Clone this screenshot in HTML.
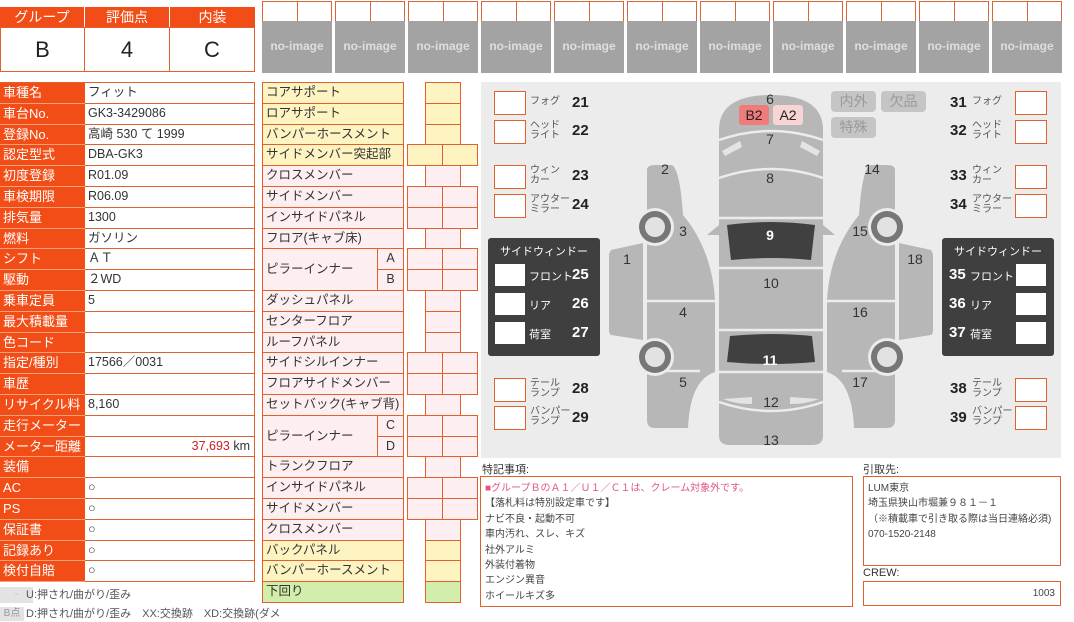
<!DOCTYPE html>
<html><head><meta charset="utf-8">
<style>
*{box-sizing:border-box;margin:0;padding:0}
body{width:1074px;height:617px;background:#fff;position:relative;overflow:hidden;font-family:"Liberation Sans","Noto Sans CJK JP",sans-serif;font-size:12.5px;color:#333}
.a{position:absolute}
.or{background:#f24d17;color:#fff}
.b{border:1px solid #e0612e}
.hd{top:7px;height:21px;text-align:center;font-size:14px;line-height:20px}
.hv{top:27px;height:45px;text-align:center;font-size:22px;line-height:44px;color:#222}
.lr{left:0;width:255px;height:20.8px;display:flex}
.lr .l{width:85px;background:#f24d17;color:#fff;padding-left:3px;line-height:19px;border-bottom:1px solid #f6a07c;font-size:13px}
.lr .v{flex:1;border:1px solid #e0612e;border-left:none;border-top:none;padding-left:3px;line-height:19px;font-size:12.5px}
.th{width:70px}
.th .c{position:absolute;top:1px;height:21px;width:35.5px;border:1px solid #d9653a}
.th .img{position:absolute;top:21px;height:52px;width:70px;background:#a3a3a3;color:#dedede;font-weight:bold;font-size:12px;text-align:center;line-height:50px;overflow:hidden}
.pr{left:262px;width:142px;height:21.8px;border:1px solid #e0612e;padding-left:3px;line-height:19px;font-size:12.5px}
.Y{background:#fdf4c2}.P{background:#fdeef1}.G{background:#d3edaa}
.bx{height:21.8px;border:1px solid #e0612e}
.cb{background:#fff;border:1px solid #e0612e}
.sm{font-size:10px;line-height:10px;color:#555}
.num{font-size:15px;font-weight:bold;color:#222}
.gb{background:#c5c5c5;color:#9a9a9a;border-radius:4px;text-align:center;font-size:14px;line-height:20px;width:45px;height:21px}
</style></head><body>

<div class="a or hd" style="left:0;width:84px">グループ</div>
<div class="a or hd" style="left:85px;width:84px">評価点</div>
<div class="a or hd" style="left:170px;width:85px">内装</div>
<div class="a b hv" style="left:0;width:85px">B</div>
<div class="a b hv" style="left:84px;width:86px">4</div>
<div class="a b hv" style="left:169px;width:86px">C</div>

<div class="a th" style="left:262px;top:0"><div class="c" style="left:0"></div><div class="c" style="left:34.5px"></div><div class="img">no-image</div></div>
<div class="a th" style="left:335px;top:0"><div class="c" style="left:0"></div><div class="c" style="left:34.5px"></div><div class="img">no-image</div></div>
<div class="a th" style="left:408px;top:0"><div class="c" style="left:0"></div><div class="c" style="left:34.5px"></div><div class="img">no-image</div></div>
<div class="a th" style="left:481px;top:0"><div class="c" style="left:0"></div><div class="c" style="left:34.5px"></div><div class="img">no-image</div></div>
<div class="a th" style="left:554px;top:0"><div class="c" style="left:0"></div><div class="c" style="left:34.5px"></div><div class="img">no-image</div></div>
<div class="a th" style="left:627px;top:0"><div class="c" style="left:0"></div><div class="c" style="left:34.5px"></div><div class="img">no-image</div></div>
<div class="a th" style="left:700px;top:0"><div class="c" style="left:0"></div><div class="c" style="left:34.5px"></div><div class="img">no-image</div></div>
<div class="a th" style="left:773px;top:0"><div class="c" style="left:0"></div><div class="c" style="left:34.5px"></div><div class="img">no-image</div></div>
<div class="a th" style="left:846px;top:0"><div class="c" style="left:0"></div><div class="c" style="left:34.5px"></div><div class="img">no-image</div></div>
<div class="a th" style="left:919px;top:0"><div class="c" style="left:0"></div><div class="c" style="left:34.5px"></div><div class="img">no-image</div></div>
<div class="a th" style="left:992px;top:0"><div class="c" style="left:0"></div><div class="c" style="left:34.5px"></div><div class="img">no-image</div></div>

<div class="a" style="left:0;top:82px;width:255px;border-top:1px solid #e0612e">
<div class="lr"><div class="l">車種名</div><div class="v">フィット</div></div>
<div class="lr"><div class="l">車台No.</div><div class="v">GK3-3429086</div></div>
<div class="lr"><div class="l">登録No.</div><div class="v">高崎 530 て 1999</div></div>
<div class="lr"><div class="l">認定型式</div><div class="v">DBA-GK3</div></div>
<div class="lr"><div class="l">初度登録</div><div class="v">R01.09</div></div>
<div class="lr"><div class="l">車検期限</div><div class="v">R06.09</div></div>
<div class="lr"><div class="l">排気量</div><div class="v">1300</div></div>
<div class="lr"><div class="l">燃料</div><div class="v">ガソリン</div></div>
<div class="lr"><div class="l">シフト</div><div class="v">ＡＴ</div></div>
<div class="lr"><div class="l">駆動</div><div class="v">２WD</div></div>
<div class="lr"><div class="l">乗車定員</div><div class="v">5</div></div>
<div class="lr"><div class="l">最大積載量</div><div class="v"></div></div>
<div class="lr"><div class="l">色コード</div><div class="v"></div></div>
<div class="lr"><div class="l">指定/種別</div><div class="v">17566／0031</div></div>
<div class="lr"><div class="l">車歴</div><div class="v"></div></div>
<div class="lr"><div class="l">リサイクル料</div><div class="v">8,160</div></div>
<div class="lr"><div class="l">走行メーター</div><div class="v"></div></div>
<div class="lr"><div class="l">メーター距離</div><div class="v" style="text-align:right;padding-right:4px"><span style="color:#c8202a">37,693</span> km</div></div>
<div class="lr"><div class="l">装備</div><div class="v"></div></div>
<div class="lr"><div class="l">AC</div><div class="v">○</div></div>
<div class="lr"><div class="l">PS</div><div class="v">○</div></div>
<div class="lr"><div class="l">保証書</div><div class="v">○</div></div>
<div class="lr"><div class="l">記録あり</div><div class="v">○</div></div>
<div class="lr"><div class="l">検付自賠</div><div class="v">○</div></div>
</div>
<div class="a" style="left:0;top:587px;width:33px;height:16px;background:#e3e3e3;color:#bbb;text-align:center;font-size:10px;line-height:16px">-</div>
<div class="a" style="left:26px;top:587px;font-size:11px;color:#555;line-height:16px">U:押され/曲がり/歪み</div>
<div class="a" style="left:0;top:607px;width:24px;height:14px;background:#e3e3e3;color:#999;font-size:10px;line-height:14px;text-align:center">B点</div>
<div class="a" style="left:26px;top:606px;font-size:11px;color:#555;line-height:16px;white-space:nowrap">D:押され/曲がり/歪み　XX:交換跡　XD:交換跡(ダメ</div>

<div class="a pr Y" style="top:82px">コアサポート</div>
<div class="a pr Y" style="top:102.8px">ロアサポート</div>
<div class="a pr Y" style="top:123.6px">バンパーホースメント</div>
<div class="a pr Y" style="top:144.4px">サイドメンバー突起部</div>
<div class="a pr P" style="top:165.2px">クロスメンバー</div>
<div class="a pr P" style="top:186px">サイドメンバー</div>
<div class="a pr P" style="top:206.8px">インサイドパネル</div>
<div class="a pr P" style="top:227.6px">フロア(キャブ床)</div>
<div class="a pr P" style="top:248.4px;height:42.6px;width:116px;line-height:40px">ピラーインナー</div>
<div class="a pr P" style="top:248.4px;left:377px;width:27px;text-align:center;padding:0">A</div>
<div class="a pr P" style="top:269.2px;left:377px;width:27px;text-align:center;padding:0">B</div>
<div class="a pr P" style="top:290px">ダッシュパネル</div>
<div class="a pr P" style="top:310.8px">センターフロア</div>
<div class="a pr P" style="top:331.6px">ルーフパネル</div>
<div class="a pr P" style="top:352.4px">サイドシルインナー</div>
<div class="a pr P" style="top:373.2px">フロアサイドメンバー</div>
<div class="a pr P" style="top:394px">セットバック(キャブ背)</div>
<div class="a pr P" style="top:414.8px;height:42.6px;width:116px;line-height:40px">ピラーインナー</div>
<div class="a pr P" style="top:414.8px;left:377px;width:27px;text-align:center;padding:0">C</div>
<div class="a pr P" style="top:435.6px;left:377px;width:27px;text-align:center;padding:0">D</div>
<div class="a pr P" style="top:456.4px">トランクフロア</div>
<div class="a pr P" style="top:477.2px">インサイドパネル</div>
<div class="a pr P" style="top:498px">サイドメンバー</div>
<div class="a pr P" style="top:518.8px">クロスメンバー</div>
<div class="a pr Y" style="top:539.6px">バックパネル</div>
<div class="a pr Y" style="top:560.4px">バンパーホースメント</div>
<div class="a pr G" style="top:581.2px">下回り</div>

<div class="a bx Y" style="left:425px;top:82px;width:36px"></div>
<div class="a bx Y" style="left:425px;top:102.8px;width:36px"></div>
<div class="a bx Y" style="left:425px;top:123.6px;width:36px"></div>
<div class="a bx Y" style="left:407px;top:144.4px;width:36px"></div><div class="a bx Y" style="left:442px;top:144.4px;width:36px"></div>
<div class="a bx P" style="left:425px;top:165.2px;width:36px"></div>
<div class="a bx P" style="left:407px;top:186px;width:36px"></div><div class="a bx P" style="left:442px;top:186px;width:36px"></div>
<div class="a bx P" style="left:407px;top:206.8px;width:36px"></div><div class="a bx P" style="left:442px;top:206.8px;width:36px"></div>
<div class="a bx P" style="left:425px;top:227.6px;width:36px"></div>
<div class="a bx P" style="left:407px;top:248.4px;width:36px"></div><div class="a bx P" style="left:442px;top:248.4px;width:36px"></div>
<div class="a bx P" style="left:407px;top:269.2px;width:36px"></div><div class="a bx P" style="left:442px;top:269.2px;width:36px"></div>
<div class="a bx P" style="left:425px;top:290px;width:36px"></div>
<div class="a bx P" style="left:425px;top:310.8px;width:36px"></div>
<div class="a bx P" style="left:425px;top:331.6px;width:36px"></div>
<div class="a bx P" style="left:407px;top:352.4px;width:36px"></div><div class="a bx P" style="left:442px;top:352.4px;width:36px"></div>
<div class="a bx P" style="left:407px;top:373.2px;width:36px"></div><div class="a bx P" style="left:442px;top:373.2px;width:36px"></div>
<div class="a bx P" style="left:425px;top:394px;width:36px"></div>
<div class="a bx P" style="left:407px;top:414.8px;width:36px"></div><div class="a bx P" style="left:442px;top:414.8px;width:36px"></div>
<div class="a bx P" style="left:407px;top:435.6px;width:36px"></div><div class="a bx P" style="left:442px;top:435.6px;width:36px"></div>
<div class="a bx P" style="left:425px;top:456.4px;width:36px"></div>
<div class="a bx P" style="left:407px;top:477.2px;width:36px"></div><div class="a bx P" style="left:442px;top:477.2px;width:36px"></div>
<div class="a bx P" style="left:407px;top:498px;width:36px"></div><div class="a bx P" style="left:442px;top:498px;width:36px"></div>
<div class="a bx P" style="left:425px;top:518.8px;width:36px"></div>
<div class="a bx Y" style="left:425px;top:539.6px;width:36px"></div>
<div class="a bx Y" style="left:425px;top:560.4px;width:36px"></div>
<div class="a bx G" style="left:425px;top:581.2px;width:36px"></div>

<div class="a" style="left:481px;top:82px;width:580px;height:376px;background:#ececec"></div>
<svg class="a" style="left:0;top:0" width="1074" height="617">
 <g fill="#b7b7b7">
  <path d="M719,130 Q719,95 771,95 Q823,95 823,130 L823,436 Q823,445 812,445 L730,445 Q719,445 719,436 Z"/>
  <path d="M647,170 Q647,165 655,165 L672,165 Q680,170 683,215 Q712,250 715,300 L715,372 Q690,380 688,428 L655,428 Q647,428 647,420 Z"/>
  <path d="M611,250 L643,243 L643,340 L611,335 Q609,334 609,330 L609,254 Z"/>
  <path d="M895,170 Q895,165 887,165 L870,165 Q862,170 859,215 Q830,250 827,300 L827,372 Q852,380 854,428 L887,428 Q895,428 895,420 Z"/>
  <path d="M931,250 L899,243 L899,340 L931,335 Q933,334 933,330 L933,254 Z"/>
  <path d="M707,235 L719,225 L719,235 Z"/><path d="M835,235 L823,225 L823,235 Z"/>
 </g>
 <g stroke="#ececec" stroke-width="2.5" fill="none">
  <path d="M719,140 Q771,122 823,140"/>
  <path d="M719,178 Q771,160 823,178"/>
  <line x1="719" y1="218" x2="823" y2="218"/>
  <line x1="719" y1="268" x2="823" y2="268"/>
  <line x1="719" y1="330" x2="823" y2="330"/>
  <line x1="719" y1="372" x2="823" y2="372"/>
  <path d="M719,402 Q771,420 823,402"/>
  <line x1="645" y1="301" x2="717" y2="301"/><line x1="645" y1="371" x2="700" y2="371"/>
  <line x1="825" y1="301" x2="897" y2="301"/><line x1="842" y1="371" x2="897" y2="371"/>
  <line x1="645" y1="243" x2="645" y2="340"/><line x1="897" y1="243" x2="897" y2="340"/>
 </g>
 <g fill="#e4e4e4">
  <path d="M722,151 L740,141 L742,147 L725,156 Z"/><path d="M820,151 L802,141 L800,147 L817,156 Z"/>
  <path d="M723,399 L752,397 L752,404 Q735,404 723,399 Z"/><path d="M819,399 L790,397 L790,404 Q807,404 819,399 Z"/>
 </g>
 <g fill="#404040">
  <path d="M727,225 Q771,219 815,225 L811,260 Q771,256 731,260 Z"/>
  <path d="M730,336 Q771,332 812,336 L815,362 Q771,366 727,362 Z"/>
 </g>
 <g>
  <circle cx="655" cy="227" r="19" fill="#ececec"/><circle cx="655" cy="227" r="16" fill="#777"/><circle cx="655" cy="227" r="10" fill="#e2e2e2"/>
  <circle cx="655" cy="357" r="19" fill="#ececec"/><circle cx="655" cy="357" r="16" fill="#777"/><circle cx="655" cy="357" r="10" fill="#e2e2e2"/>
  <circle cx="887" cy="227" r="19" fill="#ececec"/><circle cx="887" cy="227" r="16" fill="#777"/><circle cx="887" cy="227" r="10" fill="#e2e2e2"/>
  <circle cx="887" cy="357" r="19" fill="#ececec"/><circle cx="887" cy="357" r="16" fill="#777"/><circle cx="887" cy="357" r="10" fill="#e2e2e2"/>
 </g>
 <g font-family="Liberation Sans, sans-serif" font-size="14" fill="#333" text-anchor="middle">
  <text x="770" y="104">6</text><text x="770" y="144">7</text><text x="770" y="183">8</text>
  <text x="770" y="240" fill="#fff" font-weight="bold">9</text><text x="771" y="288">10</text>
  <text x="770" y="365" fill="#fff" font-weight="bold">11</text><text x="771" y="407">12</text><text x="771" y="445">13</text>
  <text x="627" y="264">1</text><text x="665" y="174">2</text><text x="683" y="236">3</text><text x="683" y="317">4</text><text x="683" y="387">5</text>
  <text x="872" y="174">14</text><text x="860" y="236">15</text><text x="860" y="317">16</text><text x="860" y="387">17</text><text x="915" y="264">18</text>
 </g>
</svg>
<div class="a" style="left:739px;top:105px;width:30px;height:20px;background:#f07b7b;border-radius:3px;text-align:center;font-size:14px;line-height:20px;color:#222">B2</div>
<div class="a" style="left:773px;top:105px;width:30px;height:20px;background:#f8d4d4;border-radius:3px;text-align:center;font-size:14px;line-height:20px;color:#222">A2</div>
<div class="a gb" style="left:831px;top:91px">内外</div>
<div class="a gb" style="left:881px;top:91px">欠品</div>
<div class="a gb" style="left:831px;top:117px">特殊</div>

<div class="a cb" style="left:494px;top:91px;width:32px;height:24px"></div><div class="a sm" style="left:530px;top:97px">フォグ</div><div class="a num" style="left:572px;top:94px">21</div>
<div class="a cb" style="left:494px;top:120px;width:32px;height:24px"></div><div class="a sm" style="left:530px;top:121px">ヘッド<br>ライト</div><div class="a num" style="left:572px;top:122px">22</div>
<div class="a cb" style="left:494px;top:165px;width:32px;height:24px"></div><div class="a sm" style="left:530px;top:166px">ウィン<br>カー</div><div class="a num" style="left:572px;top:167px">23</div>
<div class="a cb" style="left:494px;top:194px;width:32px;height:24px"></div><div class="a sm" style="left:530px;top:195px">アウター<br>ミラー</div><div class="a num" style="left:572px;top:196px">24</div>
<div class="a cb" style="left:494px;top:378px;width:32px;height:24px"></div><div class="a sm" style="left:530px;top:379px">テール<br>ランプ</div><div class="a num" style="left:572px;top:380px">28</div>
<div class="a cb" style="left:494px;top:406px;width:32px;height:24px"></div><div class="a sm" style="left:530px;top:407px">バンパー<br>ランプ</div><div class="a num" style="left:572px;top:409px">29</div>
<div class="a num" style="left:950px;top:94px">31</div><div class="a sm" style="left:972px;top:97px">フォグ</div><div class="a cb" style="left:1015px;top:91px;width:32px;height:24px"></div>
<div class="a num" style="left:950px;top:122px">32</div><div class="a sm" style="left:972px;top:121px">ヘッド<br>ライト</div><div class="a cb" style="left:1015px;top:120px;width:32px;height:24px"></div>
<div class="a num" style="left:950px;top:167px">33</div><div class="a sm" style="left:972px;top:166px">ウィン<br>カー</div><div class="a cb" style="left:1015px;top:165px;width:32px;height:24px"></div>
<div class="a num" style="left:950px;top:196px">34</div><div class="a sm" style="left:972px;top:195px">アウター<br>ミラー</div><div class="a cb" style="left:1015px;top:194px;width:32px;height:24px"></div>
<div class="a num" style="left:950px;top:380px">38</div><div class="a sm" style="left:972px;top:379px">テール<br>ランプ</div><div class="a cb" style="left:1015px;top:378px;width:32px;height:24px"></div>
<div class="a num" style="left:950px;top:409px">39</div><div class="a sm" style="left:972px;top:407px">バンパー<br>ランプ</div><div class="a cb" style="left:1015px;top:406px;width:32px;height:24px"></div>

<div class="a" style="left:488px;top:238px;width:112px;height:118px;background:#3f3f3f;border-radius:3px;color:#fff">
 <div class="a" style="left:0;top:5px;width:112px;text-align:center;font-size:11px">サイドウィンドー</div>
 <div class="a" style="left:7px;top:26px;width:30px;height:22px;background:#fff"></div><div class="a" style="left:41px;top:30px;font-size:11px">フロント</div><div class="a num" style="left:84px;top:28px;color:#fff">25</div>
 <div class="a" style="left:7px;top:55px;width:30px;height:22px;background:#fff"></div><div class="a" style="left:41px;top:59px;font-size:11px">リア</div><div class="a num" style="left:84px;top:57px;color:#fff">26</div>
 <div class="a" style="left:7px;top:84px;width:30px;height:22px;background:#fff"></div><div class="a" style="left:41px;top:88px;font-size:11px">荷室</div><div class="a num" style="left:84px;top:86px;color:#fff">27</div>
</div>
<div class="a" style="left:942px;top:238px;width:112px;height:118px;background:#3f3f3f;border-radius:3px;color:#fff">
 <div class="a" style="left:0;top:5px;width:112px;text-align:center;font-size:11px">サイドウィンドー</div>
 <div class="a num" style="left:7px;top:28px;color:#fff">35</div><div class="a" style="left:28px;top:30px;font-size:11px">フロント</div><div class="a" style="left:74px;top:26px;width:30px;height:22px;background:#fff"></div>
 <div class="a num" style="left:7px;top:57px;color:#fff">36</div><div class="a" style="left:28px;top:59px;font-size:11px">リア</div><div class="a" style="left:74px;top:55px;width:30px;height:22px;background:#fff"></div>
 <div class="a num" style="left:7px;top:86px;color:#fff">37</div><div class="a" style="left:28px;top:88px;font-size:11px">荷室</div><div class="a" style="left:74px;top:84px;width:30px;height:22px;background:#fff"></div>
</div>

<div class="a" style="left:482px;top:461px;font-size:11px;color:#333">特記事項:</div>
<div class="a b" style="left:480px;top:476px;width:373px;height:131px;padding:4px 4px;font-size:10px;line-height:15.4px;color:#444">
<div style="color:#e0548a">■グループＢのＡ１／Ｕ１／Ｃ１は、クレーム対象外です。</div>
<div>【落札料は特別設定車です】</div><div>ナビ不良・起動不可</div><div>車内汚れ、スレ、キズ</div><div>社外アルミ</div><div>外装付着物</div><div>エンジン異音</div><div>ホイールキズ多</div>
</div>
<div class="a" style="left:863px;top:461px;font-size:11px;color:#333">引取先:</div>
<div class="a b" style="left:863px;top:476px;width:198px;height:90px;padding:4px 4px;font-size:10px;line-height:15.4px;color:#444">
<div>LUM東京</div><div>埼玉県狭山市堀兼９８１－１</div><div>（※積載車で引き取る際は当日連絡必須)</div><div>070-1520-2148</div>
</div>
<div class="a" style="left:863px;top:567px;font-size:11px;color:#333">CREW:</div>
<div class="a b" style="left:863px;top:581px;width:198px;height:25px;font-size:10px;line-height:23px;text-align:right;padding-right:5px;color:#444">1003</div>
</body></html>
